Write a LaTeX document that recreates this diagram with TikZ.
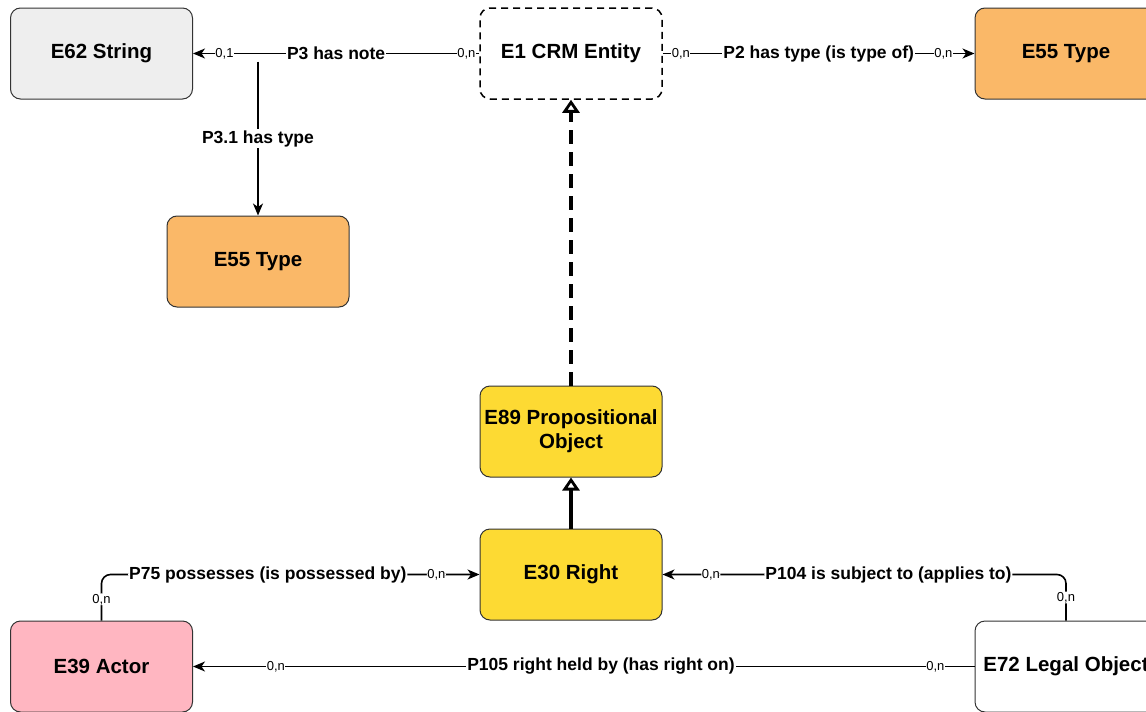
\documentclass[tikz,border=0pt]{standalone}
\usepackage{fontspec}
\setmainfont{Liberation Sans}
\usetikzlibrary{arrows.meta,calc}
\definecolor{cgray}{HTML}{EEEEEE}
\definecolor{corange}{HTML}{FAB868}
\definecolor{cyellow}{HTML}{FDDA33}
\definecolor{cpink}{HTML}{FFB6C1}
\tikzset{
  entity/.style={draw=black!80, rounded corners=10pt, minimum width=182pt, minimum height=91pt,
    font=\bfseries\fontsize{20.5}{24}\selectfont, align=center, line width=1pt, inner sep=1pt},
  rel/.style={draw=black, line width=1.6pt, -{Stealth[length=12pt,width=10pt,inset=3.5pt]}},
  inherit/.style={draw=black, line width=3.8pt, -{Triangle[open,length=13pt,width=17pt,line width=2.8pt]}},
  lbl/.style={fill=white, inner sep=1pt, font=\bfseries\fontsize{17.5}{20}\selectfont},
  card/.style={fill=white, inner sep=0.5pt, font=\fontsize{13}{14}\selectfont}
}
\begin{document}
\begin{tikzpicture}[x=1pt,y=-1pt]
\useasboundingbox (0,0) rectangle (1146,712);
\clip (0,0) rectangle (1146,712);
% entities
\node[entity, fill=cgray] (e62) at (101.5,53.5) {E62 String};
\node[entity, fill=white, draw=black, line width=1.5pt, dash pattern=on 7pt off 5pt] (e1) at (571,53.5) {E1 CRM Entity};
\node[entity, fill=corange] (e55a) at (1066,53.5) {E55 Type};
\node[entity, fill=corange] (e55b) at (258,261.5) {E55 Type};
\node[entity, fill=cyellow] (e89) at (571,431.5) {E89 Propositional\\Object};
\node[entity, fill=cyellow] (e30) at (571,574.5) {E30 Right};
\node[entity, fill=cpink] (e39) at (101.5,666.5) {E39 Actor};
\node[entity, fill=white] (e72) at (1066,666.5) {E72 Legal Object};
% inheritance
\draw[inherit, dash pattern=on 14pt off 8pt] (e89.north) -- (e1.south);
\draw[inherit] (e30.north) -- (e89.south);
% P3
\draw[rel] (e1.west) -- (e62.east)
  node[pos=0.045, card] {0,n}
  node[pos=0.5, lbl] {P3 has note}
  node[pos=0.89, card] {0,1};
\coordinate (p3j) at ($(e55b.north |- e62.east)+(0,8)$);
\draw[rel] (p3j) -- (e55b.north) node[pos=0.5, lbl] {P3.1 has type};
% P2
\draw[rel] (e1.east) -- (e55a.west)
  node[pos=0.058, card] {0,n}
  node[pos=0.5, lbl] {P2 has type (is type of)}
  node[pos=0.9, card] {0,n};
% P75
\draw[rel, rounded corners=9pt] (e39.north) |- (e30.west)
  node[pos=0.23, card] {0,n}
  node[pos=0.72, lbl] {P75 possesses (is possessed by)}
  node[pos=0.943, card] {0,n};
% P104
\draw[rel, rounded corners=9pt] (e72.north) |- (e30.east)
  node[pos=0.25, card] {0,n}
  node[pos=0.72, lbl] {P104 is subject to (applies to)}
  node[pos=0.94, card] {0,n};
% P105
\draw[rel] (e72.west) -- (e39.east)
  node[pos=0.05, card] {0,n}
  node[pos=0.478, lbl] {P105 right held by (has right on)}
  node[pos=0.894, card] {0,n};
\end{tikzpicture}
\end{document}
